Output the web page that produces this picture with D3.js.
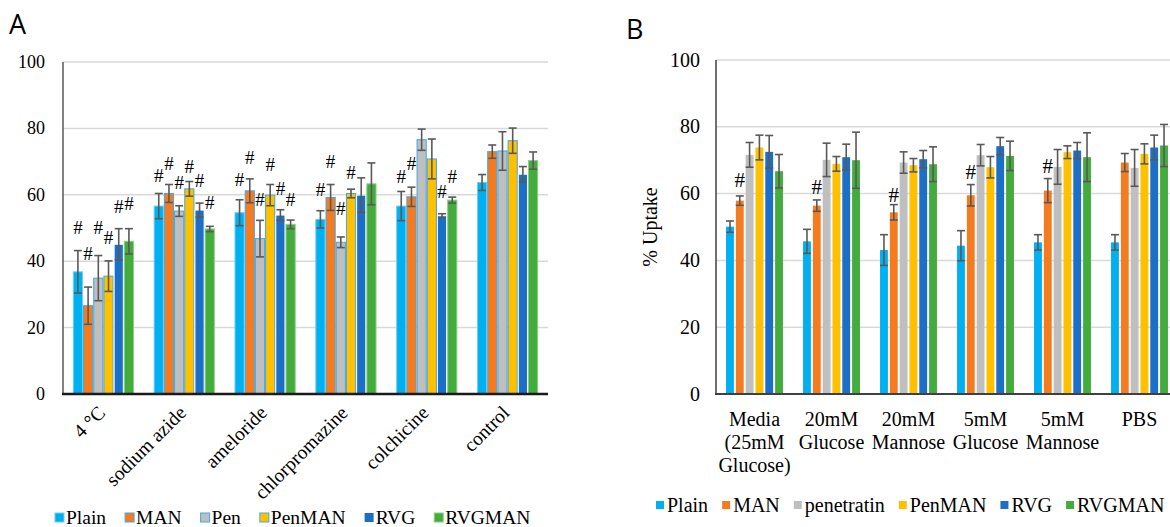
<!DOCTYPE html>
<html><head><meta charset="utf-8">
<script src="https://cdn.jsdelivr.net/npm/d3@7"></script>
<style>
html,body{margin:0;padding:0;background:#fff;}
svg{display:block;}
</style></head>
<body>
<svg id="chart" width="1170" height="527"></svg>
<script>
// ---------- Panel A data ----------
const seriesA = ["Plain", "MAN", "Pen", "PenMAN", "RVG", "RVGMAN"];
const catsA = ["4 °C", "sodium azide", "ameloride", "chlorpromazine", "colchicine", "control"];
const valuesA = [
  [36.8, 26.6, 34.9, 35.5, 45.1, 46.0],
  [56.6, 60.4, 55.1, 61.8, 55.4, 49.7],
  [54.6, 61.2, 46.8, 59.9, 53.9, 51.1],
  [52.6, 59.2, 45.7, 60.4, 59.9, 63.3],
  [56.6, 59.4, 76.6, 70.8, 53.7, 58.4],
  [63.7, 73.0, 73.2, 76.3, 66.2, 70.3]
];
const errA = [
  [6.4, 5.6, 6.8, 4.6, 4.7, 3.8],
  [3.8, 2.7, 1.6, 2.2, 2.1, 0.8],
  [3.9, 3.6, 5.5, 3.2, 1.6, 1.3],
  [2.6, 3.9, 1.6, 1.3, 5.2, 6.3],
  [4.4, 2.9, 3.2, 6.0, 0.6, 0.9],
  [2.4, 2.0, 5.8, 3.8, 2.3, 2.6]
];
// height (in % units) of the "#" significance marks, null = none
const hashA = [
  [50.1, 42.4, 50.1, 47.1, 56.4, 57.2],
  [65.7, 69.5, 63.5, 68.5, 64.2, 57.6],
  [64.5, 71.3, 58.4, 69.0, 61.7, 58.6],
  [61.4, 70.0, 55.7, 66.5, null, null],
  [65.5, 69.5, null, null, 60.9, 65.5],
  [null, null, null, null, null, null]
];
const ticksA = [0, 20, 40, 60, 80, 100];

// ---------- Panel B data ----------
const seriesB = ["Plain", "MAN", "penetratin", "PenMAN", "RVG", "RVGMAN"];
const catsB = [["Media", "(25mM", "Glucose)"], ["20mM", "Glucose"], ["20mM", "Mannose"],
               ["5mM", "Glucose"], ["5mM", "Mannose"], ["PBS"]];
const valuesB = [
  [50.1, 57.9, 71.6, 73.8, 72.5, 66.7],
  [45.7, 56.4, 70.1, 68.9, 70.9, 70.0],
  [43.1, 54.4, 69.3, 68.5, 70.3, 68.8],
  [44.4, 59.5, 71.5, 67.9, 74.2, 71.3],
  [45.4, 60.9, 68.0, 72.4, 72.9, 70.9],
  [45.4, 69.3, 67.7, 71.9, 73.8, 74.4]
];
const errB = [
  [1.7, 1.4, 3.7, 3.7, 4.9, 5.0],
  [3.6, 1.7, 5.0, 2.2, 3.9, 8.4],
  [4.6, 2.3, 3.2, 2.0, 2.6, 5.2],
  [4.5, 3.2, 3.2, 3.2, 2.6, 4.4],
  [2.3, 3.6, 5.2, 1.9, 2.4, 7.3],
  [2.3, 2.7, 5.5, 3.0, 3.7, 6.3]
];
const hashB = [
  [null, 64.1, null, null, null, null],
  [null, 62.1, null, null, null, null],
  [null, 59.6, null, null, null, null],
  [null, 66.4, null, null, null, null],
  [null, 68.3, null, null, null, null],
  [null, null, null, null, null, null]
];
const ticksB = [0, 20, 40, 60, 80, 100];
const yLabelB = "% Uptake";

// ---------- styling ----------
const colors = ["#00B0F0", "#F47B20", "#BFBFBF", "#FFC000", "#1C6FC6", "#43AC3D"];
const strokesA = ["#6FCDF3", "#3FA9E6", "#3FA9E6", "#3FA9E6", "#FFFFFF", "#8ACF86"];
const serif = "'Liberation Serif','Times New Roman',serif";

const svg = d3.select("#chart");

function panel(opt) {
  const g = svg.append("g");
  const x = d3.scaleBand().domain(d3.range(opt.cats.length))
    .range([opt.x0, opt.x1]).paddingInner(opt.pad).paddingOuter(opt.pad / 2);
  const xs = d3.scaleBand().domain(d3.range(opt.series.length))
    .range([0, x.bandwidth()]).padding(opt.subPad);
  const y = d3.scaleLinear().domain([0, 100]).range([opt.y0, opt.y1]);

  // gridlines
  g.append("g").selectAll("line").data(opt.ticks.filter(t => t > 0)).join("line")
    .attr("x1", opt.x0).attr("x2", opt.gridEnd)
    .attr("y1", d => y(d)).attr("y2", d => y(d))
    .attr("stroke", "#D9D9D9").attr("stroke-width", 1.5);

  // y tick labels
  g.append("g").selectAll("text").data(opt.ticks).join("text")
    .attr("x", opt.x0 - opt.tickGap).attr("y", d => y(d) + opt.tickFont * 0.33)
    .attr("text-anchor", "end").attr("font-family", serif)
    .attr("font-size", opt.tickFont).attr("fill", "#000").text(d => d);

  // bars
  const groups = g.append("g").selectAll("g").data(opt.values).join("g")
    .attr("transform", (d, i) => `translate(${x(i)},0)`);
  groups.selectAll("rect").data(d => d).join("rect")
    .attr("x", (d, j) => xs(j)).attr("width", xs.bandwidth())
    .attr("y", d => y(d)).attr("height", d => y(0) - y(d))
    .attr("fill", (d, j) => colors[j])
    .attr("stroke", (d, j) => opt.strokes ? opt.strokes[j] : "none")
    .attr("stroke-width", opt.strokes ? 1 : 0);

  // error bars
  const eb = g.append("g").attr("stroke", "#595959").attr("stroke-width", 1.6).attr("fill", "none");
  opt.values.forEach((row, i) => {
    row.forEach((v, j) => {
      const e = opt.errs[i][j];
      const cx = x(i) + xs(j) + xs.bandwidth() / 2;
      eb.append("line").attr("x1", cx).attr("x2", cx).attr("y1", y(v + e)).attr("y2", y(v - e));
      eb.append("line").attr("x1", cx - opt.cap).attr("x2", cx + opt.cap).attr("y1", y(v + e)).attr("y2", y(v + e));
      eb.append("line").attr("x1", cx - opt.cap).attr("x2", cx + opt.cap).attr("y1", y(v - e)).attr("y2", y(v - e));
    });
  });

  // hash marks
  const hg = g.append("g");
  opt.hash.forEach((row, i) => {
    row.forEach((h, j) => {
      if (h == null) return;
      const cx = x(i) + xs(j) + xs.bandwidth() / 2;
      hg.append("text").attr("x", cx).attr("y", y(h) + opt.hashFont * 0.33)
        .attr("text-anchor", "middle").attr("font-family", serif)
        .attr("font-size", opt.hashFont).attr("fill", "#000").text("#");
    });
  });

  // axes lines
  g.append("line").attr("x1", opt.x0).attr("x2", opt.x0).attr("y1", y(0)).attr("y2", y(100))
    .attr("stroke", opt.yAxisColor).attr("stroke-width", opt.yAxisW);
  g.append("line").attr("x1", opt.x0 - 1).attr("x2", opt.gridEnd).attr("y1", y(0)).attr("y2", y(0))
    .attr("stroke", opt.xAxisColor).attr("stroke-width", opt.xAxisW);

  return { g, x, y };
}

// ---------- Panel A ----------
const A = panel({
  cats: catsA, series: seriesA, values: valuesA, errs: errA, hash: hashA, ticks: ticksA,
  x0: 63, x1: 548, gridEnd: 548, y0: 394, y1: 62, pad: 0.23, subPad: 0.1,
  strokes: strokesA, tickFont: 18, tickGap: 18, hashFont: 19, cap: 4,
  yAxisColor: "#595959", yAxisW: 1.5, xAxisColor: "#1a1a1a", xAxisW: 2.5
});
A.g.append("g").selectAll("text").data(catsA).join("text")
  .attr("transform", (d, i) => `translate(${A.x(i) + A.x.bandwidth() / 2 + 3},${414}) rotate(-45)`)
  .attr("text-anchor", "end").attr("font-family", serif).attr("font-size", 19.5)
  .attr("fill", "#000").text(d => d);

// legend A
(function () {
  const lg = svg.append("g");
  let cx = 55;
  seriesA.forEach((s, j) => {
    lg.append("rect").attr("x", cx).attr("y", 513).attr("width", 9).attr("height", 9)
      .attr("fill", colors[j]).attr("stroke", strokesA[j] === "#FFFFFF" ? "none" : strokesA[j]).attr("stroke-width", 1);
    const t = lg.append("text").attr("x", cx + 11).attr("y", 524).attr("font-family", serif)
      .attr("font-size", 19.5).attr("fill", "#000").text(s);
    cx += 11 + t.node().getComputedTextLength() + 19;
  });
})();

svg.append("text").attr("x", 9).attr("y", 34).attr("font-family", "'Open Sans',sans-serif")
  .attr("font-size", 27).attr("fill", "#000").text("A");

// ---------- Panel B ----------
const B = panel({
  cats: catsB, series: seriesB, values: valuesB, errs: errB, hash: hashB, ticks: ticksB,
  x0: 716, x1: 1178, gridEnd: 1178, y0: 394, y1: 60, pad: 0.21, subPad: 0.2,
  strokes: null, tickFont: 20, tickGap: 16, hashFont: 21, cap: 4,
  yAxisColor: "#404040", yAxisW: 1.5, xAxisColor: "#404040", xAxisW: 2
});
const lblB = B.g.append("g").selectAll("text").data(catsB).join("text")
  .attr("x", (d, i) => B.x(i) + B.x.bandwidth() / 2).attr("y", 426)
  .attr("text-anchor", "middle").attr("font-family", serif).attr("font-size", 20).attr("fill", "#000");
lblB.selectAll("tspan").data(d => d).join("tspan")
  .attr("x", function () { return this.parentNode.getAttribute("x"); })
  .attr("dy", (d, k) => k === 0 ? 0 : 23).text(d => d);

svg.append("text").attr("transform", `translate(657,${B.y(50)}) rotate(-90)`)
  .attr("text-anchor", "middle").attr("font-family", serif).attr("font-size", 20)
  .attr("fill", "#000").text(yLabelB);

// legend B
(function () {
  const lg = svg.append("g");
  let cx = 656;
  seriesB.forEach((s, j) => {
    lg.append("rect").attr("x", cx).attr("y", 501).attr("width", 8).attr("height", 8).attr("fill", colors[j]);
    const t = lg.append("text").attr("x", cx + 11).attr("y", 512).attr("font-family", serif)
      .attr("font-size", 20).attr("fill", "#000").text(s);
    cx += 11 + t.node().getComputedTextLength() + 14;
  });
})();

svg.append("text").attr("x", 626).attr("y", 39).attr("font-family", "'Open Sans',sans-serif")
  .attr("font-size", 27).attr("fill", "#000").text("B");
</script>
</body></html>
